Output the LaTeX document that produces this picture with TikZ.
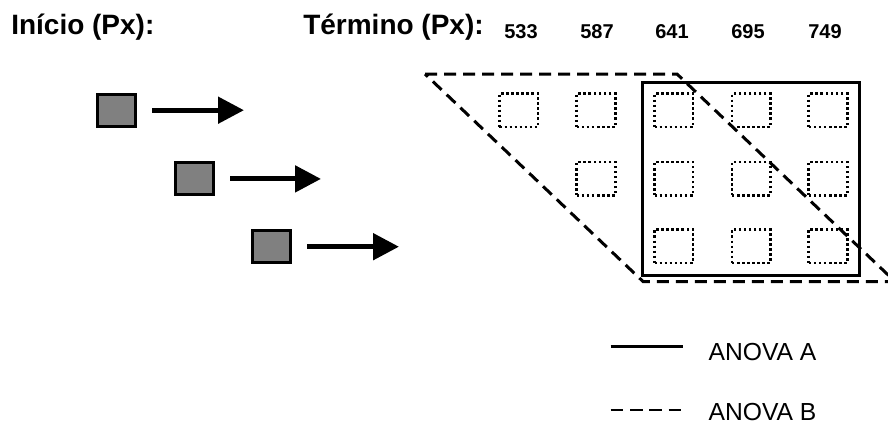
\documentclass[tikz,border=0pt]{standalone}
\usepackage{fontspec}
\setmainfont{Liberation Sans}
\usetikzlibrary{arrows.meta}
\begin{document}
\begin{tikzpicture}[x=0.75pt,y=-0.75pt,
  title/.style={font=\fontsize{21}{25}\selectfont\bfseries,anchor=base west,inner sep=0pt},
  colnum/.style={font=\fontsize{15}{18}\selectfont\bfseries,anchor=base,inner sep=0pt},
  legtext/.style={font=\fontsize{18.5}{22}\selectfont,anchor=base west,inner sep=0pt},
  startbox/.style={draw,line width=2.25pt,fill=black!50,minimum width=28.5pt,minimum height=24pt,inner sep=0pt},
  endbox/.style={draw,line width=1.9pt,dash pattern=on 1.9pt off 1.9pt,minimum width=28.9pt,minimum height=25.1pt,inner sep=0pt},
  shiftarrow/.style={line width=3.8pt,-{Triangle[length=19.5pt,width=19.5pt]}},
  anovaA/.style={line width=2.25pt},
  anovaB/.style={line width=2.25pt,dash pattern=on 9pt off 5.25pt},
]
\useasboundingbox (0,0) rectangle (888,425);

% headings
\node[title] (ini) at (11,34.3) {Início (Px):};
\node[title] (ter) at (303,34.3) {Término (Px):};
\foreach \v/\x in {533/521,587/597,641/672,695/748,749/825}
  \node[colnum] (n\v) at (\x,38.3) {\v};

% start windows shifted to the right
\node[startbox] (s1) at (116.2,110.2) {};
\node[startbox] (s2) at (194.2,178.9) {};
\node[startbox] (s3) at (271.4,246.7) {};
\coordinate (e1) at (244,110.2);
\coordinate (e2) at (321,178.9);
\coordinate (e3) at (399,246.7);
\draw[shiftarrow] ([xshift=11.5pt]s1.east) -- (e1);
\draw[shiftarrow] ([xshift=11.5pt]s2.east) -- (e2);
\draw[shiftarrow] ([xshift=11.5pt]s3.east) -- (e3);

% end windows grid
\foreach \c/\x in {1/518.7,2/596,3/673.8,4/751.2,5/828}{
  \node[endbox] (r1c\c) at (\x,110.3) {};
}
\foreach \c/\x in {2/596,3/673.8,4/751.2,5/828}{
  \node[endbox] (r2c\c) at (\x,178.7) {};
}
\foreach \c/\x in {3/673.8,4/751.2,5/828}{
  \node[endbox] (r3c\c) at (\x,246.2) {};
}

% ANOVA A: full square
\draw[anovaA] (642.3,82.7) rectangle (859,275);

% ANOVA B: diagonal band
\begin{scope}
\clip (0,0) rectangle (888,425);
\coordinate (tl) at (425,74);
\coordinate (tr) at (677,74);
\coordinate (br) at (895,281.5);
\coordinate (bl) at (643,281.5);
\draw[anovaB] (tl) -- (tr) -- (br) -- (bl) -- cycle;
\end{scope}

% legend
\coordinate (la1) at (610.7,346.7);
\coordinate (la2) at (682.7,346.7);
\coordinate (lb1) at (610.7,410);
\coordinate (lb2) at (682.7,410);
\draw[line width=2pt] (la1) -- (la2);
\draw[line width=2pt,dash pattern=on 9.5pt off 5pt] (lb1) -- (lb2);
\node[legtext] (ta) at (708.3,360.7) {ANOVA A};
\node[legtext] (tb) at (708.3,420.7) {ANOVA B};
\end{tikzpicture}
\end{document}
